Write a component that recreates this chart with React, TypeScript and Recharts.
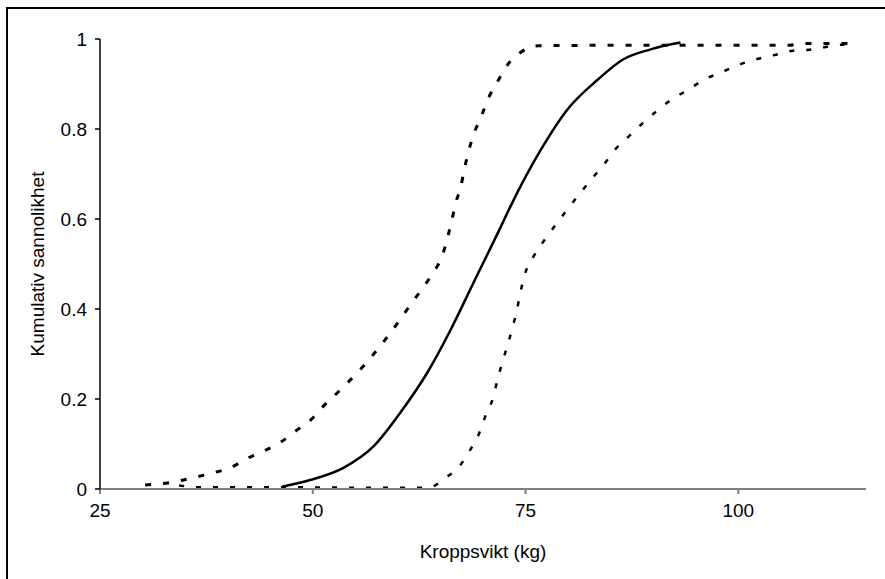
import { Line, LineChart, XAxis, YAxis } from "recharts";

// median curve
const medianWeight = [46.4, 49.7, 53.6, 57.1, 60.3, 63.5, 66.2, 68.9, 72.1, 73.2, 76.8, 79.9, 83.5, 86.5, 89.7, 93.2];
const medianProb = [0.005, 0.02, 0.047, 0.094, 0.17, 0.26, 0.354, 0.459, 0.583, 0.627, 0.754, 0.843, 0.91, 0.955, 0.977, 0.992];

// left (upper) bound
const upperWeight = [
  30.3, 32.3, 34.3, 36.4, 38.3, 40.3, 42.3, 44.2, 46.3, 48.2, 49.8, 51.2, 52.9, 55.8, 58.8, 61.5, 64.1, 65.2,
  65.8, 66.3, 66.8, 67.4, 67.8, 68.3, 68.9, 69.8, 70.6, 71.7, 72.9, 74.4, 76.5, 85, 95, 106, 107.4, 113.6,
];
const upperProb = [
  0.009, 0.012, 0.018, 0.027, 0.036, 0.047, 0.068, 0.084, 0.105, 0.132, 0.154, 0.183, 0.214, 0.27, 0.339, 0.41,
  0.48, 0.517, 0.556, 0.594, 0.636, 0.672, 0.71, 0.75, 0.788, 0.828, 0.867, 0.905, 0.943, 0.97, 0.985, 0.986,
  0.986, 0.986, 0.99, 0.99,
];

// right (lower) bound
const lowerWeight = [
  34.3, 36.4, 45, 55, 63.6, 65.6, 67.2, 68.5, 69.6, 70.3, 71.2, 71.7, 72.3, 72.9, 73.5, 74.0, 74.4, 74.9, 75.8,
  77.1, 78.5, 79.9, 81.4, 82.9, 84.2, 85.6, 87.1, 88.7, 90.3, 92.1, 94.1, 96.0, 97.9, 100.1, 102.3, 104.4, 106.4,
  108.3, 110.5, 112.4, 113.6,
];
const lowerProb = [
  0.008, 0.004, 0.004, 0.003, 0.003, 0.025, 0.05, 0.087, 0.126, 0.163, 0.204, 0.243, 0.283, 0.321, 0.361, 0.399,
  0.437, 0.476, 0.512, 0.55, 0.586, 0.621, 0.657, 0.692, 0.721, 0.756, 0.783, 0.812, 0.838, 0.865, 0.887, 0.91,
  0.925, 0.943, 0.956, 0.965, 0.974, 0.976, 0.983, 0.988, 0.99,
];

const xTicks = [25, 50, 75, 100];
const yTicks = [0, 0.2, 0.4, 0.6, 0.8, 1];

const toRows = (xs: number[], ys: number[]) => xs.map((x, i) => ({ x, y: ys[i] }));

const medianRows = toRows(medianWeight, medianProb);
const upperRows = toRows(upperWeight, upperProb);
const lowerRows = toRows(lowerWeight, lowerProb);

const font = "'Liberation Sans', Arial, sans-serif";

export default function App() {
  return (
    <div
      style={{
        position: "fixed",
        left: 0,
        top: 0,
        width: 885,
        height: 579,
        overflow: "hidden",
        background: "#fff",
        fontFamily: font,
      }}
    >
      <div
        style={{
          position: "absolute",
          left: 6,
          top: 7,
          width: 900,
          height: 600,
          border: "2px solid #000",
        }}
      />
      <div style={{ position: "absolute", left: 0, top: 0 }}>
        <LineChart width={885} height={579} margin={{ top: 39, right: 19, left: 0, bottom: 0 }}>
          <XAxis
            type="number"
            dataKey="x"
            domain={[25, 115]}
            ticks={xTicks}
            allowDataOverflow
            stroke="#808080"
            strokeWidth={2}
            tickSize={5}
            tickMargin={10}
            height={90}
            tick={{ fill: "#000", fontSize: 19, fontFamily: font }}
            label={{
              value: "Kroppsvikt (kg)",
              position: "insideBottom",
              offset: 21,
              fill: "#000",
              fontSize: 19,
              fontFamily: font,
            }}
          />
          <YAxis
            type="number"
            dataKey="y"
            domain={[0, 1]}
            ticks={yTicks}
            width={100}
            stroke="#000"
            strokeWidth={1.5}
            tickSize={5}
            tickMargin={8}
            tick={{ fill: "#000", fontSize: 19, fontFamily: font }}
            label={{
              value: "Kumulativ sannolikhet",
              angle: -90,
              position: "insideLeft",
              offset: 37,
              fill: "#000",
              fontSize: 19,
              fontFamily: font,
              style: { textAnchor: "middle" },
            }}
          />
          <Line
            data={upperRows}
            dataKey="y"
            type="monotone"
            stroke="#000"
            strokeWidth={3}
            strokeDasharray="6 12"
            dot={false}
            isAnimationActive={false}
          />
          <Line
            data={lowerRows}
            dataKey="y"
            type="monotone"
            stroke="#000"
            strokeWidth={2.5}
            strokeDasharray="5 12"
            dot={false}
            isAnimationActive={false}
          />
          <Line
            data={medianRows}
            dataKey="y"
            type="monotone"
            stroke="#000"
            strokeWidth={2.5}
            dot={false}
            isAnimationActive={false}
          />
        </LineChart>
      </div>
    </div>
  );
}
